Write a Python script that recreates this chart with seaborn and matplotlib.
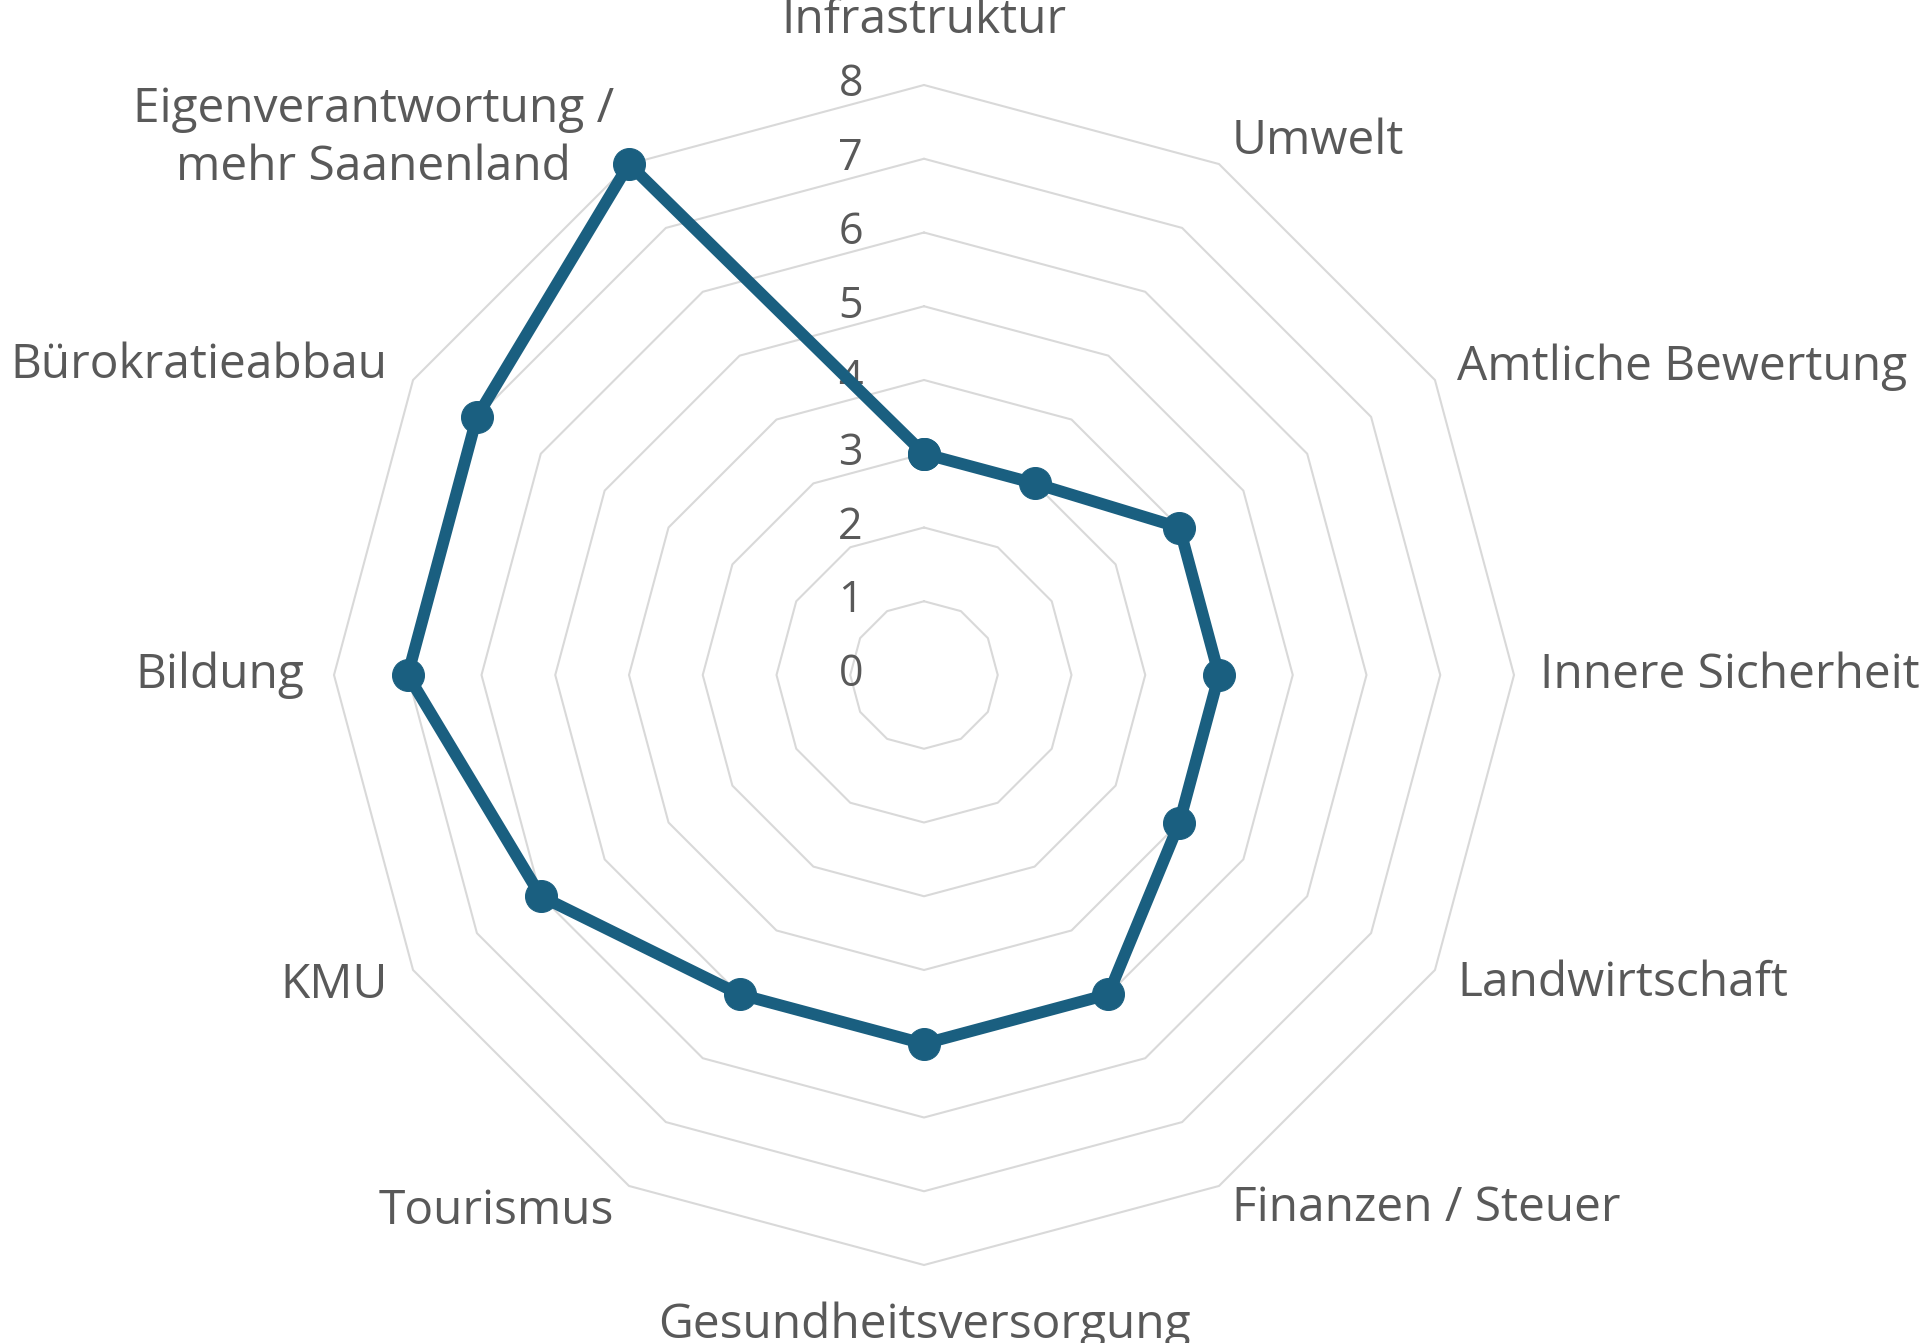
import numpy as np
import matplotlib
matplotlib.use("Agg")
import matplotlib.pyplot as plt
from matplotlib.transforms import offset_copy
import seaborn as sns

# ---------------------------------------------------------------
# DATA
# ---------------------------------------------------------------
categories = [
    "Infrastruktur", "Umwelt", "Amtliche Bewertung", "Innere Sicherheit",
    "Landwirtschaft", "Finanzen / Steuer", "Gesundheitsversorgung",
    "Tourismus", "KMU", "Bildung", "Bürokratieabbau",
    "Eigenverantwortung /\nmehr Saanenland",
]
values = [3, 3, 4, 4, 4, 5, 5, 5, 6, 7, 7, 8]
ring_levels = [1, 2, 3, 4, 5, 6, 7, 8]
tick_labels = ["0", "1", "2", "3", "4", "5", "6", "7", "8"]

line_color = "#1a5f80"
grid_color = "#d9d9d9"
text_color = "#595959"

# ---------------------------------------------------------------
# PLOT
# ---------------------------------------------------------------
sns.set_theme(style="white")
plt.rcParams["font.family"] = ["Open Sans", "DejaVu Sans"]

n = len(categories)
angles = np.linspace(0, 2 * np.pi, n, endpoint=False)
angles_closed = np.append(angles, 2 * np.pi)
values_closed = values + values[:1]

fig = plt.figure(figsize=(19.2, 13.43), dpi=100)
ax = fig.add_axes([334 / 1920, 78 / 1343, 1180 / 1920, 1180 / 1343], projection="polar")
ax.set_theta_zero_location("N")
ax.set_theta_direction(-1)
ax.set_ylim(0, 8)
ax.grid(False)
ax.spines["polar"].set_visible(False)
ax.set_xticks([])
ax.set_yticks([])
ax.patch.set_alpha(0)

# polygon gridlines
for lvl in ring_levels:
    ax.plot(angles_closed, [lvl] * (n + 1), color=grid_color, lw=1.5, zorder=1, clip_on=False)

# data line
sns.lineplot(
    x=angles_closed, y=values_closed, ax=ax, sort=False, estimator=None,
    color=line_color, lw=8.5, marker="o", markersize=23,
    markeredgecolor=line_color, zorder=3, clip_on=False,
)

# radial tick labels left of the vertical axis
tick_tr = offset_copy(ax.transData, fig=fig, x=-61, y=0, units="dots")
for i, lab in enumerate(tick_labels):
    ax.text(0, i, lab, transform=tick_tr, ha="right", va="center",
            fontsize=31, color=text_color, zorder=2)

# category labels
lab_size = 34.5
for ang, lab in zip(angles, categories):
    deg = np.degrees(ang)
    if np.isclose(deg, 0):
        ax.text(ang, 8.55, lab, ha="center", va="bottom", fontsize=lab_size, color=text_color)
    elif np.isclose(deg, 180):
        ax.text(ang, 8.5, lab, ha="center", va="top", fontsize=lab_size, color=text_color)
    elif deg < 180:
        ax.text(ang, 8.35, lab, ha="left", va="center", fontsize=lab_size, color=text_color)
    else:
        ax.text(ang, 8.4, lab, ha="right", va="center", fontsize=lab_size,
                color=text_color, multialignment="center", linespacing=1.3)

fig.savefig("out.png", dpi=100, facecolor="white")
